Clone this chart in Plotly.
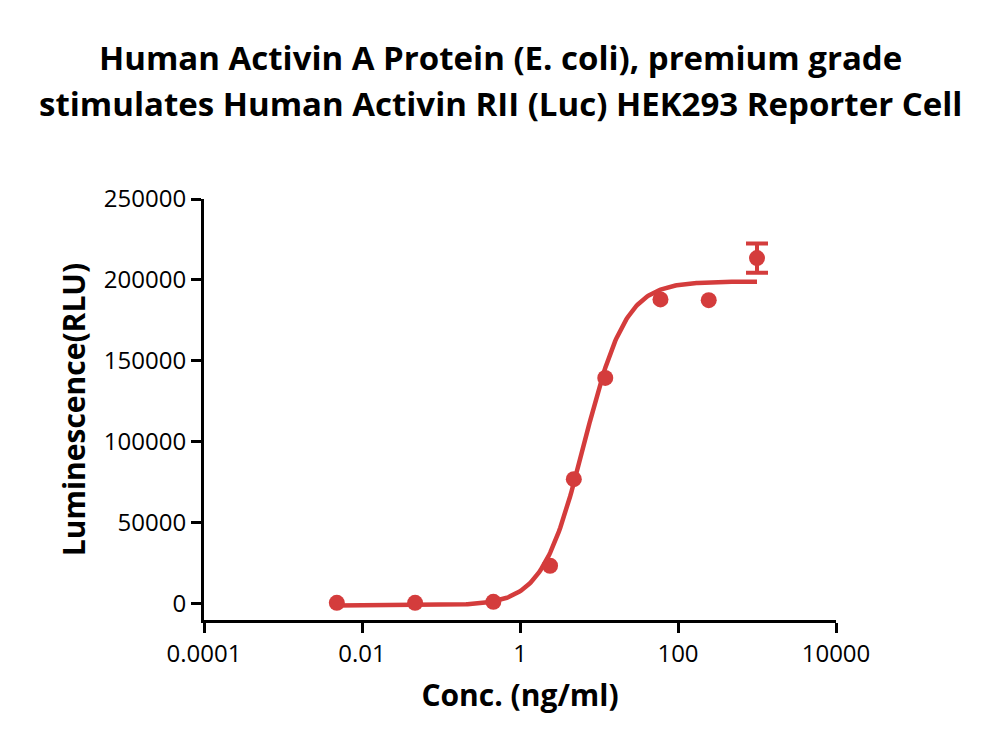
import numpy as np
import plotly.graph_objects as go

# Data
conc = [0.0048, 0.047, 0.46, 2.4, 4.8, 12, 60, 245, 1000]
rlu = [600, 600, 1200, 23500, 77000, 139500, 188000, 187500, 213500]
# error bar only visible on the last point
err_conc = [1000]
err_rlu = [213500]
err_val = [9000]

# 4PL fit parameters (estimated from the drawn curve)
fit_bottom = -1000
fit_top = 199000
fit_ec50 = 6.5
fit_hill = 1.65

x_tickvals = [0.0001, 0.01, 1, 100, 10000]
x_ticktext = ["0.0001", "0.01", "1", "100", "10000"]
y_tickvals = [0, 50000, 100000, 150000, 200000, 250000]
y_ticktext = ["0", "50000", "100000", "150000", "200000", "250000"]

title_lines = ["Human Activin A Protein (E. coli), premium grade",
               "stimulates Human Activin RII (Luc) HEK293 Reporter Cell"]

RED = "#D43C3C"

xs = np.logspace(np.log10(conc[0]), np.log10(conc[-1]), 300)
ys = fit_bottom + (fit_top - fit_bottom) / (1 + (fit_ec50 / xs) ** fit_hill)

fig = go.Figure()
fig.add_trace(go.Scatter(x=xs, y=ys, mode="lines",
                         line=dict(color=RED, width=4.5), showlegend=False,
                         hoverinfo="skip"))
fig.add_trace(go.Scatter(x=err_conc, y=err_rlu, mode="markers",
                         marker=dict(color=RED, size=1, opacity=0),
                         error_y=dict(type="data", array=err_val, visible=True,
                                      color=RED, thickness=4, width=11),
                         showlegend=False, hoverinfo="skip"))
fig.add_trace(go.Scatter(x=conc, y=rlu, mode="markers",
                         marker=dict(color=RED, size=16),
                         showlegend=False))

font_family = "Open Sans"
fig.update_layout(
    width=1000, height=750,
    margin=dict(l=204, r=164, t=199, b=130),
    paper_bgcolor="white", plot_bgcolor="white",
    font=dict(family=font_family, color="black"),
    xaxis=dict(type="log", range=[-4, 4], tickvals=x_tickvals, ticktext=x_ticktext,
               showgrid=False, zeroline=False, showline=True, linecolor="black",
               linewidth=3, ticks="outside", ticklen=10, tickwidth=3,
               tickcolor="black", tickfont=dict(size=24, family=font_family),
               title=dict(text="<b>Conc. (ng/ml)</b>",
                          font=dict(size=30, family=font_family), standoff=18)),
    yaxis=dict(range=[-10000, 250000], tickvals=y_tickvals, ticktext=y_ticktext,
               showgrid=False, zeroline=False, showline=True, linecolor="black",
               linewidth=3, ticks="outside", ticklen=10, tickwidth=3,
               tickcolor="black", tickfont=dict(size=24, family=font_family),
               title=dict(text="<b>Luminescence(RLU)</b>",
                          font=dict(size=30, family=font_family), standoff=10)),
)

for i, line in enumerate(title_lines):
    ypix = 57 + 47 * i
    fig.add_annotation(text="<b>" + line + "</b>", xref="paper", yref="paper",
                       x=(500 - 204) / (1000 - 204 - 164), y=(620 - ypix) / 421,
                       xanchor="center", yanchor="middle", showarrow=False,
                       font=dict(size=33, family=font_family, color="black"))

fig.write_html("out.html")
